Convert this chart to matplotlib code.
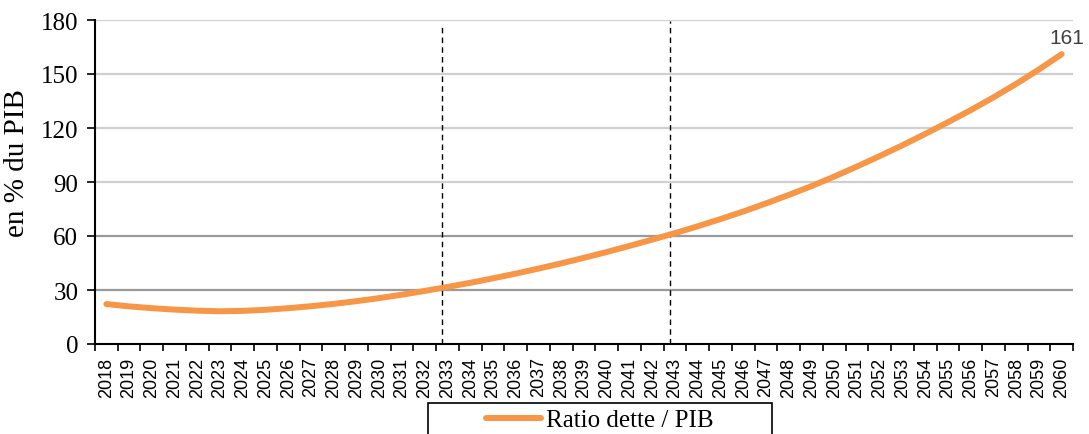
import matplotlib
matplotlib.use("Agg")
import matplotlib.pyplot as plt
from matplotlib.patches import Rectangle

# data
years = list(range(2018, 2061))
ratio = [22.2, 20.9, 19.9, 19.1, 18.5, 18.2, 18.4, 19.0, 19.9, 21.0,
         22.3, 23.8, 25.5, 27.4, 29.5, 31.7, 34.0, 36.5, 39.1, 41.9,
         44.8, 47.9, 51.1, 54.5, 58.0, 61.6, 65.4, 69.4, 73.6, 78.1,
         82.8, 87.7, 93.0, 98.6, 104.4, 110.4, 116.7, 123.2, 129.9, 137.0,
         144.5, 152.5, 161.0]
yticks = [0, 30, 60, 90, 120, 150, 180]
dark_grid = [30, 60]
light_grid = [90, 120, 150, 180]
markers = [2032.76, 2042.79]  # dashed vertical lines
end_label = "161"
series_name = "Ratio dette / PIB"

serif = "Liberation Serif"
sans = "Liberation Sans"
orange = "#F79646"

fig = plt.figure(figsize=(10.89, 4.35), dpi=100)
ax = fig.add_axes([95/1089, 90/435, 978/1089, 324/435])

x = [y - years[0] for y in years]

for g in light_grid:
    ax.axhline(g, color="#d0d0d0", lw=1.6, zorder=1)
for g in dark_grid:
    ax.axhline(g, color="#9a9a9a", lw=1.6, zorder=1)

ax.axvline(markers[0] - years[0], ymin=0, ymax=0.982, color="black",
           lw=1.0, ls=(0, (4, 3)), zorder=2)
ax.axvline(markers[1] - years[0], ymin=0, ymax=0.997, color="black",
           lw=1.0, ls=(0, (4, 3)), zorder=2)

line, = ax.plot(x, ratio, color=orange, lw=4.3, solid_capstyle="round",
                label=series_name, zorder=3)

ax.annotate(end_label, (x[-1], ratio[-1]), xytext=(4, 5),
            textcoords="offset points", ha="center", va="bottom",
            fontsize=15, color="#404040", family=sans, annotation_clip=False)

ax.set_xlim(-0.5, len(years) - 0.5)
ax.set_ylim(0, 180)
ax.set_yticks(yticks)
ax.set_yticklabels([str(v) for v in yticks], family=serif, fontsize=18)
ax.set_xticks(x)
ax.set_xticklabels([str(y) for y in years], rotation=90, family=sans,
                   fontsize=13)
ax.set_xticks([i - 0.5 for i in range(len(years) + 1)], minor=True)
ax.tick_params(axis="x", which="major", length=0, pad=9)
ax.tick_params(axis="x", which="minor", length=5, width=1.2, direction="out")
ax.tick_params(axis="y", length=6, width=1.2, direction="out", pad=6)

ax.set_ylabel("en % du PIB", family=serif, fontsize=21)
ax.yaxis.set_label_coords(-0.066, 0.56)

for s in ["top", "right"]:
    ax.spines[s].set_visible(False)
for s in ["left", "bottom"]:
    ax.spines[s].set_linewidth(1.5)
    ax.spines[s].set_color("black")
ax.spines["bottom"].set_zorder(4)

# legend box, cut off by the bottom edge like in the original
fig.patches.append(Rectangle((428/1089, -0.1), 344/1089, 0.1 + 31/435,
                             transform=fig.transFigure, fill=False,
                             ec="black", lw=1.2))
fig.legend(handles=[line], loc="center", bbox_to_anchor=(600/1089, 14/435),
           frameon=False, prop={"family": serif, "size": 18},
           handlelength=2.2, handletextpad=0.2)

fig.savefig("out.png", dpi=100)
